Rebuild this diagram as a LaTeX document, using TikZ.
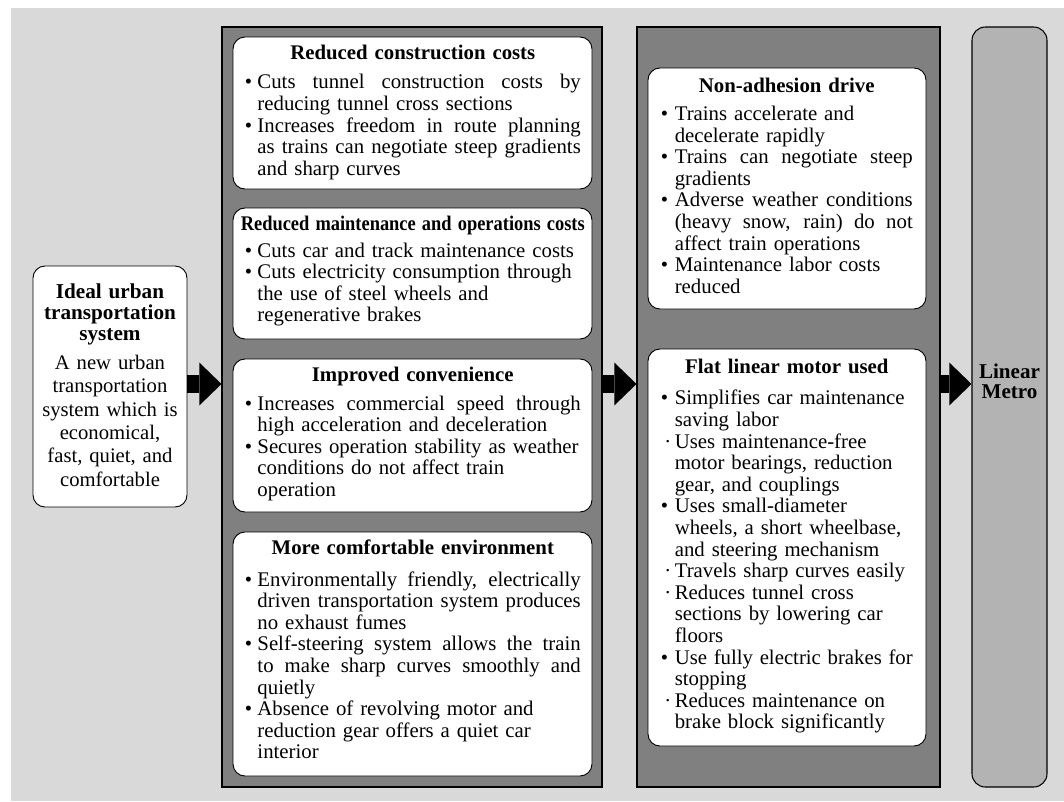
\documentclass[tikz,border=0pt]{standalone}
\usepackage{fontspec}
\setmainfont{Liberation Serif}
\usepackage{graphicx}
\usetikzlibrary{arrows.meta,fit}

\definecolor{bggray}{HTML}{D9D9D9}
\definecolor{panelgray}{HTML}{808080}
\definecolor{metrogray}{HTML}{B3B3B3}

\newlength\hangw
\newlength\jw
\newcommand\jl[1]{\hbox to\jw{\spaceskip=0.25em plus 1fil minus 0.08em\relax #1}}
\newcommand\itm[2][•]{\par\begingroup\let\\\newline
    \hangindent=\hangw\hangafter=1\noindent\makebox[\hangw][l]{#1}#2\par\endgroup}
\newcommand\ttl[2][5.5pt]{{\centering\bfseries #2\par}\vspace{#1}}

\begin{document}
\begin{tikzpicture}
[
    x=0.75pt, y=-0.75pt,
    panel/.style={draw=black, line width=0.8pt, fill=panelgray, inner sep=0pt},
    card/.style={draw=black, line width=0.7pt, fill=white, rounded corners=9pt, inner sep=0pt},
    coltxt/.style={anchor=north west, inner sep=0pt, align=left, font=\fontsize{15.6}{16.2}\selectfont},
    colA/.style={coltxt, text width=252pt,
        execute at begin node={\setlength\hangw{9.5pt}\setlength\jw{242.5pt}}},
    colB/.style={coltxt, text width=189pt,
        execute at begin node={\setlength\hangw{10.5pt}\setlength\jw{178.5pt}}},
    bigarrow/.style={line width=13.5pt, -{Triangle[length=16.5pt, width=32pt, line width=0pt]}},
]
\useasboundingbox (0,0) rectangle (1064,801);
\fill[bggray] (11,8) rectangle (1064,801);

\node[card, fit={(33,266) (187,507)}] (ideal) {};
\node[text width=114pt, align=center, font=\fontsize{15.5}{17.5}\selectfont] (idealtxt)
    at ([yshift=1pt]ideal.center)
    {{\bfseries\fontsize{15.9}{15.75}\selectfont Ideal urban\\transportation\\system\par}\vspace{4.25pt}
    A new urban\\transportation\\system which is\\economical,\\fast, quiet, and\\comfortable};

\node[panel, fit={(222,27) (602,787)}] (p1) {};
\node[panel, fit={(637,27) (940,787)}] (p2) {};
\node[panel, fill=metrogray, rounded corners=10pt, fit={(972,27) (1047,787)}] (metro) {};
\node[font=\fontsize{15.8}{15}\selectfont\bfseries, align=center] (metrotxt)
    at (metro.center |- 0,381) {Linear\\Metro};

\node[card, fit={(233,37) (592,189)}] (cost) {};
\node[card, fit={(233,208) (592,339)}] (maint) {};
\node[card, fit={(233,359) (592,512)}] (conv) {};
\node[card, fit={(233,532) (592,776)}] (env) {};
\node[card, fit={(648,68) (926,309)}] (drive) {};
\node[card, fit={(648,349) (926,746)}] (motor) {};

\node[colA] (costtxt) at ([shift={(12,8)}]cost.north west) {
    \ttl[6pt]{Reduced construction costs}
    \itm{\jl{Cuts tunnel construction costs by}\\reducing tunnel cross sections}
    \itm{\jl{Increases freedom in route planning}\\\jl{as trains can negotiate steep gradients}\\and sharp curves}};
\node[colA] (mainttxt) at ([shift={(12,8)}]maint.north west) {
    \ttl[4pt]{\makebox[\hsize]{\resizebox{258pt}{\height}{Reduced maintenance and operations costs}}}
    \itm{Cuts car and track maintenance costs}
    \itm{Cuts electricity consumption through\\the use of steel wheels and\\regenerative brakes}};
\node[colA] (convtxt) at ([shift={(12,8)}]conv.north west) {
    \ttl[5.5pt]{Improved convenience}
    \itm{\jl{Increases commercial speed through}\\high acceleration and deceleration}
    \itm{Secures operation stability as weather\\conditions do not affect train\\operation}};
\node[colA] (envtxt) at ([shift={(12,8)}]env.north west) {
    \ttl[7.5pt]{More comfortable environment}
    \itm{\jl{Environmentally friendly, electrically}\\\jl{driven transportation system produces}\\no exhaust fumes}
    \itm{\jl{Self-steering system allows the train}\\\jl{to make sharp curves smoothly and}\\quietly}
    \itm{Absence of revolving motor and\\reduction gear offers a quiet car\\interior}};

\node[colB] (drivetxt) at ([shift={(13,10)}]drive.north west) {
    \ttl[5pt]{Non-adhesion drive}
    \itm{Trains accelerate and\\decelerate rapidly}
    \itm{\jl{Trains can negotiate steep}\\gradients}
    \itm{\jl{Adverse weather conditions}\\\jl{(heavy snow, rain) do not}\\affect train operations}
    \itm{Maintenance labor costs\\reduced}};
\node[colB] (motortxt) at ([shift={(13,10)}]motor.north west) {
    \ttl[7.5pt]{Flat linear motor used}
    \itm{Simplifies car maintenance\\saving labor}
    \itm[\hfill·\hfill]{Uses maintenance-free\\motor bearings, reduction\\gear, and couplings}
    \itm{Uses small-diameter\\wheels, a short wheelbase,\\and steering mechanism}
    \itm[\hfill·\hfill]{Travels sharp curves easily}
    \itm[\hfill·\hfill]{Reduces tunnel cross\\sections by lowering car\\floors}
    \itm{\jl{Use fully electric brakes for}\\stopping}
    \itm[\hfill·\hfill]{Reduces maintenance on\\brake block significantly}};

\coordinate (arrowrow) at (0,384);
\draw[bigarrow] (ideal.east |- arrowrow) -- (p1.west |- arrowrow);
\draw[bigarrow] (p1.east |- arrowrow) -- (p2.west |- arrowrow);
\draw[bigarrow] (p2.east |- arrowrow) -- (metro.west |- arrowrow);
\end{tikzpicture}
\end{document}
